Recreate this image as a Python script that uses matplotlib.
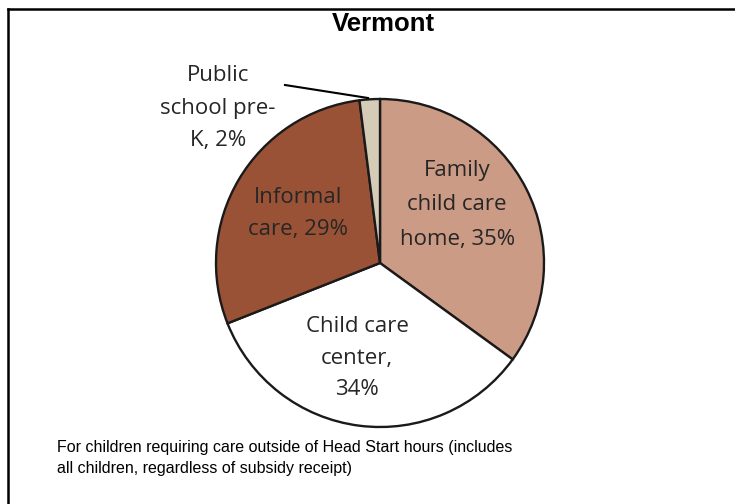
import matplotlib
matplotlib.use("Agg")
import matplotlib.pyplot as plt

# slice data (clockwise from 12 o'clock)
categories = ["Family child care home", "Child care center", "Informal care", "Public school pre-K"]
shares = [35, 34, 29, 2]
labels = ["Family\nchild care\nhome, 35%", "Child care\ncenter,\n34%", "Informal\ncare, 29%", "Public\nschool pre-\nK, 2%"]
colors = ["#CC9B86", "#FFFFFF", "#9A5236", "#D5CCB8"]

W, H = 735, 504
fig = plt.figure(figsize=(W / 100, H / 100), dpi=100)

# pie axes: centre (380, 263) px, radius 164 px
cx, cy, r = 380, 263, 164
ax = fig.add_axes([(cx - r) / W, (H - cy - r) / H, 2 * r / W, 2 * r / H])
wedges, _ = ax.pie(shares, colors=colors, startangle=90, counterclock=False,
                   radius=1, wedgeprops=dict(edgecolor="#1a1a1a", linewidth=1.7))
ax.set_xlim(-1, 1)
ax.set_ylim(-1, 1)
ax.axis("off")

lab_font = dict(family=["Open Sans", "DejaVu Sans"], fontsize=16, color="#262626",
                ha="center", va="center")
lab_pos = [(0.47, 0.354), (-0.14, -0.58), (-0.50, 0.30), (-0.99, 0.945)]
lab_spacing = [1.85, 1.65, 1.7, 1.7]
for txt, (x, y), ls in zip(labels, lab_pos, lab_spacing):
    ax.text(x, y, txt, linespacing=ls, **lab_font)

# leader line for the small slice
fig.add_artist(plt.Line2D([285 / W, 368 / W], [1 - 85 / H, 1 - 98 / H],
                          color="black", linewidth=1.5))

fig.text(383 / W, 1 - 24 / H, "Vermont", family="Liberation Sans", fontsize=18.5,
         fontweight="bold", ha="center", va="center")
fig.text(57 / W, 1 - 458 / H,
         "For children requiring care outside of Head Start hours (includes\n"
         "all children, regardless of subsidy receipt)",
         family="Liberation Sans", fontsize=11.5, ha="left", va="center", linespacing=1.45)

# frame: only top and left edges are visible in the crop
fig.add_artist(plt.Line2D([8 / W, 1], [1 - 8.5 / H, 1 - 8.5 / H], color="black", linewidth=1.8))
fig.add_artist(plt.Line2D([8 / W, 8 / W], [0, 1 - 8.5 / H], color="black", linewidth=1.8))

fig.savefig("out.png", dpi=100)
